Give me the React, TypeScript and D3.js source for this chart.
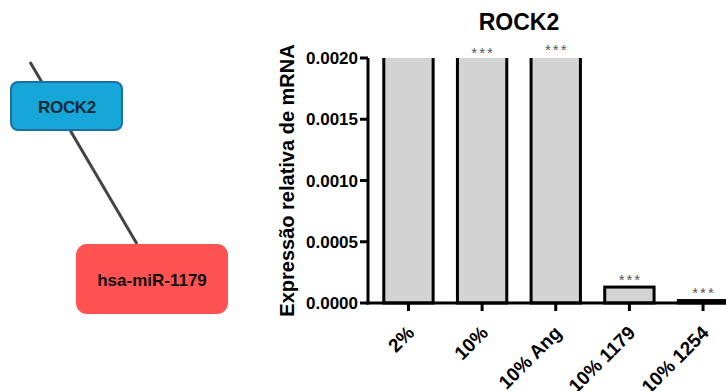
import React from "react";
import * as d3 from "d3";

const categories = ["2%", "10%", "10% Ang", "10% 1179", "10% 1254"];
const values = [0.0035, 0.0032, 0.0034, 0.00013, 0.00002];
const signif = ["", "***", "***", "***", "***"];
const yTicks = [0, 0.0005, 0.001, 0.0015, 0.002];

export default function App() {
  const W = 726, H = 391;
  const x0 = 368;
  const yTop = 58, yBot = 303;
  const y = d3.scaleLinear().domain([0, 0.002]).range([yBot, yTop]).clamp(true);
  const x = d3.scaleBand().domain(categories).range([x0 + 4, x0 + 4 + 73.5 * 5]).paddingInner(0.33).paddingOuter(0.16);
  const font = "'Liberation Sans', Arial, sans-serif";
  const starFs = 15;
  return (
    <svg width={W} height={H} style={{ position: "absolute", left: 0, top: 0 }} fontFamily={font}>
      <defs>
        <clipPath id="plotclip">
          <rect x={x0} y={yTop} width={W - x0} height={yBot - yTop + 5} />
        </clipPath>
      </defs>
      {/* network */}
      <line x1={30} y1={62} x2={137} y2={244} stroke="#444" strokeWidth={3} />
      <rect x={11} y={82} width={111} height={48} rx={7} fill="#17a6d8" stroke="#1b6fa6" strokeWidth={2} />
      <text x={67} y={113} textAnchor="middle" fontSize={17} fontWeight="bold" fill="#0b2a3a" letterSpacing={-0.3}>ROCK2</text>
      <rect x={76} y={244} width={152} height={70} rx={11} fill="#ff5252" />
      <text x={152} y={286} textAnchor="middle" fontSize={17} fontWeight="bold" fill="#111">hsa-miR-1179</text>

      {/* title */}
      <text x={519} y={30} textAnchor="middle" fontSize={23} fontWeight="bold">ROCK2</text>
      {/* y label */}
      <text transform={`translate(294,${(yTop + yBot) / 2}) rotate(-90)`} textAnchor="middle" fontSize={20} fontWeight="bold">Expressão relativa de mRNA</text>

      {/* bars */}
      <g clipPath="url(#plotclip)">
        {categories.map((c, i) => {
          const top = y(values[i]);
          const clipped = values[i] > 0.002;
          const bx = x(c)!;
          const bw = x.bandwidth();
          const ty = clipped ? top - 10 : top;
          return (
            <rect key={c} x={bx} y={ty} width={bw} height={yBot - ty}
              fill="#d3d3d3" stroke="#000" strokeWidth={3} />
          );
        })}
      </g>
      {categories.map((c, i) => {
        const cx = x(c)! + x.bandwidth() / 2;
        const top = y(values[i]);
        const center = values[i] > 0.002 ? (i === 2 ? 46 : 49) : top - 11;
        return signif[i] ? (
          <text key={c + "s"} x={cx + 1} y={center + 0.58 * starFs} textAnchor="middle" fontSize={starFs} letterSpacing={2} fill="#555">{signif[i]}</text>
        ) : null;
      })}

      {/* axes */}
      <line x1={x0} y1={yTop} x2={x0} y2={yBot + 1.5} stroke="#000" strokeWidth={3} />
      <line x1={x0 - 1.5} y1={yBot} x2={W} y2={yBot} stroke="#000" strokeWidth={3} />
      {yTicks.map(t => (
        <g key={t}>
          <line x1={x0 - 8} x2={x0} y1={y(t)} y2={y(t)} stroke="#000" strokeWidth={3} />
          <text x={x0 - 10} y={y(t)} dy="0.36em" textAnchor="end" fontSize={17} fontWeight="bold">{t.toFixed(4)}</text>
        </g>
      ))}
      {categories.map(c => {
        const cx = x(c)! + x.bandwidth() / 2;
        return (
          <g key={c + "t"}>
            <line x1={cx} x2={cx} y1={yBot} y2={yBot + 8} stroke="#000" strokeWidth={3} />
            <text transform={`translate(${cx + 7},${yBot + 31}) rotate(-45)`} textAnchor="end" fontSize={19} fontWeight="bold">{c}</text>
          </g>
        );
      })}
    </svg>
  );
}
